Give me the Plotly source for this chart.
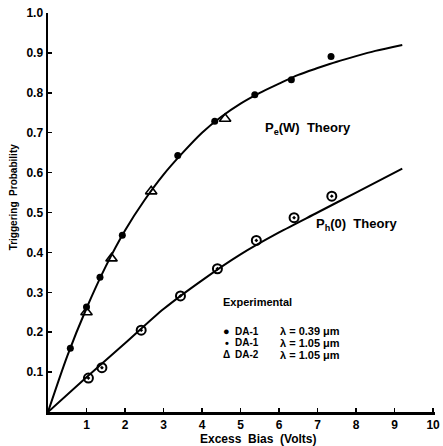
import plotly.graph_objects as go

# ---- data ----
# Theory curves
pe_theory_x = [0, 0.5, 1.0, 1.5, 2.0, 2.5, 3.0, 3.5, 4.0, 4.5, 5.0, 5.5, 6.0, 6.5, 7.0, 7.5, 8.0, 8.5, 9.2]
pe_theory_y = [0, 0.14, 0.26, 0.365, 0.455, 0.53, 0.595, 0.65, 0.70, 0.74, 0.773, 0.80, 0.823, 0.845, 0.862, 0.878, 0.892, 0.905, 0.92]

ph_theory_x = [0, 1.0, 2.0, 3.0, 4.0, 5.0, 6.0, 7.0, 8.0, 9.2]
ph_theory_y = [0, 0.087, 0.172, 0.258, 0.33, 0.395, 0.45, 0.50, 0.55, 0.61]

# Experimental points
da1_039_x = [0.58, 1.0, 1.35, 1.93, 3.37, 4.33, 5.37, 6.32, 7.35]
da1_039_y = [0.16, 0.263, 0.338, 0.443, 0.643, 0.729, 0.795, 0.833, 0.891]

da1_105_x = [1.05, 1.4, 2.42, 3.44, 4.4, 5.41, 6.39, 7.37]
da1_105_y = [0.085, 0.111, 0.205, 0.291, 0.359, 0.43, 0.487, 0.541]

da2_105_x = [1.0, 1.65, 2.68, 4.6]
da2_105_y = [0.25, 0.385, 0.553, 0.735]

x_ticks = [1, 2, 3, 4, 5, 6, 7, 8, 9, 10]
x_tick_labels = ["1", "2", "3", "4", "5", "6", "7", "8", "9", "10"]
y_ticks = [0.1, 0.2, 0.3, 0.4, 0.5, 0.6, 0.7, 0.8, 0.9, 1.0]
y_tick_labels = ["0.1", "0.2", "0.3", "0.4", "0.5", "0.6", "0.7", "0.8", "0.9", "1.0"]

legend_symbols = ["●", "•", "Δ"]
legend_devices = ["DA-1", "DA-1", "DA-2"]
legend_wavelengths = ["λ = 0.39 μm", "λ = 1.05 μm", "λ = 1.05 μm"]

FONT = "Liberation Sans"
BLACK = "#000000"

fig = go.Figure()

fig.add_trace(go.Scatter(x=pe_theory_x, y=pe_theory_y, mode="lines",
                         line=dict(color=BLACK, width=2, shape="spline", smoothing=0.8),
                         showlegend=False, name="Pe(W) Theory"))
fig.add_trace(go.Scatter(x=ph_theory_x, y=ph_theory_y, mode="lines",
                         line=dict(color=BLACK, width=2, shape="spline", smoothing=0.8),
                         showlegend=False, name="Ph(0) Theory"))

fig.add_trace(go.Scatter(x=da1_039_x, y=da1_039_y, mode="markers",
                         marker=dict(symbol="circle", size=7, color=BLACK),
                         showlegend=False, name="DA-1 λ=0.39μm"))
fig.add_trace(go.Scatter(x=da1_105_x, y=da1_105_y, mode="markers",
                         marker=dict(symbol="circle-open-dot", size=9, color=BLACK,
                                     line=dict(width=2, color=BLACK)),
                         showlegend=False, name="DA-1 λ=1.05μm"))
fig.add_trace(go.Scatter(x=da2_105_x, y=da2_105_y, mode="markers",
                         marker=dict(symbol="triangle-up-open", size=10, color=BLACK,
                                     line=dict(width=1.6, color=BLACK)),
                         showlegend=False, name="DA-2 λ=1.05μm"))

annotations = []
# axis titles
annotations.append(dict(text="Excess  Bias  (Volts)", xref="paper", yref="paper",
                        x=0.545, y=-0.067, xanchor="center", yanchor="middle",
                        showarrow=False, font=dict(family=FONT, size=12, color=BLACK, weight="bold")))
annotations.append(dict(text="Triggering  Probability", xref="paper", yref="paper",
                        x=-0.0904, y=0.538, xanchor="center", yanchor="middle", textangle=-90,
                        showarrow=False, font=dict(family=FONT, size=10, color=BLACK, weight="bold")))
# theory labels
annotations.append(dict(text="P<sub>e</sub>(W)  Theory", xref="paper", yref="paper",
                        x=0.555, y=0.711, xanchor="left", yanchor="middle",
                        showarrow=False, font=dict(family=FONT, size=13, color=BLACK, weight="bold")))
annotations.append(dict(text="P<sub>h</sub>(0)  Theory", xref="paper", yref="paper",
                        x=0.688, y=0.470, xanchor="left", yanchor="middle",
                        showarrow=False, font=dict(family=FONT, size=13, color=BLACK, weight="bold")))
# legend block
annotations.append(dict(text="Experimental", xref="paper", yref="paper",
                        x=0.446, y=0.2757, xanchor="left", yanchor="middle",
                        showarrow=False, font=dict(family=FONT, size=11, color=BLACK, weight="bold")))
row_y = [0.2030, 0.1730, 0.1430]
sym_sizes = [11, 11, 10]
for i in range(3):
    annotations.append(dict(text=legend_symbols[i], xref="paper", yref="paper",
                            x=0.4617, y=row_y[i], xanchor="center", yanchor="middle",
                            showarrow=False, font=dict(family=FONT, size=sym_sizes[i], color=BLACK, weight="bold")))
    annotations.append(dict(text=legend_devices[i], xref="paper", yref="paper",
                            x=0.478, y=row_y[i], xanchor="left", yanchor="middle",
                            showarrow=False, font=dict(family=FONT, size=10, color=BLACK, weight="bold")))
    annotations.append(dict(text=legend_wavelengths[i], xref="paper", yref="paper",
                            x=0.594, y=row_y[i], xanchor="left", yanchor="middle",
                            showarrow=False, font=dict(family=FONT, size=11, color=BLACK, weight="bold")))

axis_common = dict(showgrid=False, zeroline=False, showline=True, linecolor=BLACK, linewidth=2.5,
                   ticks="inside", ticklen=4, tickwidth=1.5, tickcolor=BLACK, mirror=False,
                   automargin=False,
                   tickfont=dict(family=FONT, size=12, color=BLACK, weight="bold"))

fig.update_layout(
    width=443, height=446,
    margin=dict(l=48, r=8, t=13, b=34, pad=0),
    paper_bgcolor="white", plot_bgcolor="white",
    showlegend=False,
    xaxis=dict(range=[0, 10.05], tickvals=x_ticks, ticktext=x_tick_labels, **axis_common),
    yaxis=dict(range=[0, 1.0], tickvals=y_ticks, ticktext=y_tick_labels, **axis_common),
    annotations=annotations,
)

# remove the browser's default 8px body margin so the figure fills the window exactly
fig.write_html("out.html",
               config={"displayModeBar": False, "staticPlot": True},
               post_script="document.body.style.margin='0';document.body.style.overflow='hidden';")
